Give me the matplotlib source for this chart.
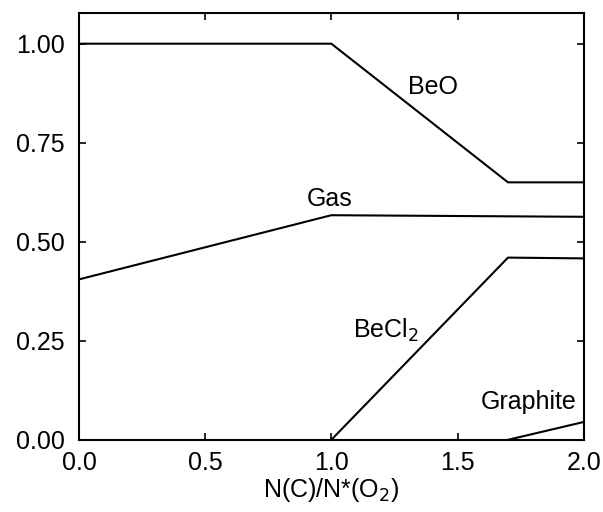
import matplotlib
matplotlib.use("Agg")
import matplotlib.pyplot as plt

plt.rcParams['font.family'] = ['Liberation Sans', 'DejaVu Sans']

# phase fractions vs N(C)/N*(O2)
beo_x = [0.0, 1.0, 1.7, 2.0]
beo_y = [1.0, 1.0, 0.65, 0.65]
gas_x = [0.0, 1.0, 2.0]
gas_y = [0.405, 0.567, 0.563]
becl2_x = [1.0, 1.7, 2.0]
becl2_y = [0.0, 0.46, 0.458]
graphite_x = [1.7, 2.0]
graphite_y = [0.0, 0.045]

fig = plt.figure(figsize=(6.03, 5.12), dpi=100)
ax = fig.add_axes([0.131, 0.141, 0.837, 0.834])

for xs, ys in [(beo_x, beo_y), (gas_x, gas_y), (becl2_x, becl2_y), (graphite_x, graphite_y)]:
    ax.plot(xs, ys, color='black', lw=1.5)

# labels (left edge, baseline)
ax.text(1.303, 0.873, 'BeO', fontsize=18)
ax.text(0.903, 0.589, 'Gas', fontsize=18)
ax.text(1.085, 0.257, 'BeCl$_2$', fontsize=18)
ax.text(1.592, 0.077, 'Graphite', fontsize=18)

ax.set_xlim(0, 2.0)
ax.set_ylim(0, 1.078)
ax.set_xticks([0.0, 0.5, 1.0, 1.5, 2.0])
ax.set_xticklabels(['0.0', '0.5', '1.0', '1.5', '2.0'])
ax.set_yticks([0.0, 0.25, 0.5, 0.75, 1.0])
ax.set_yticklabels(['0.00', '0.25', '0.50', '0.75', '1.00'])
ax.tick_params(direction='in', length=5, width=1.2, labelsize=18,
               top=True, right=True, pad=8)
ax.tick_params(axis='y', pad=10)
for s in ax.spines.values():
    s.set_linewidth(1.5)

ax.set_xlabel('N(C)/N*(O$_2$)', fontsize=18, labelpad=1)

fig.savefig('out.png', dpi=100)
